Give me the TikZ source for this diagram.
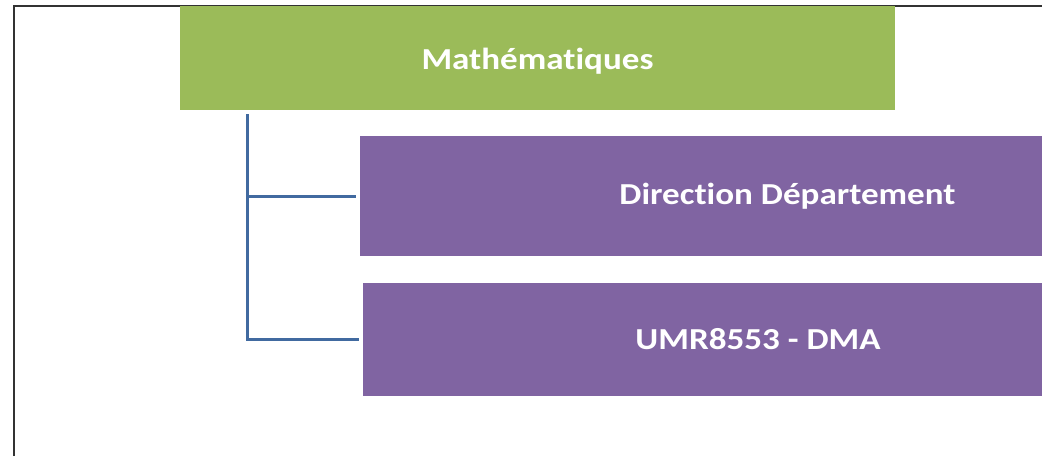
\documentclass[tikz,border=0pt]{standalone}
\usepackage{fontspec}
\setmainfont{Carlito}[FakeStretch=1.15, Ligatures=NoCommon]
\definecolor{greenbox}{RGB}{155,187,89}
\definecolor{purplebox}{RGB}{128,100,162}
\definecolor{connblue}{RGB}{65,106,160}
\definecolor{framegray}{RGB}{50,50,50}
\tikzset{
  boxlabel/.style={font=\fontsize{30.5}{36}\selectfont\bfseries, text=white, inner sep=0pt},
  greennode/.style={boxlabel, fill=greenbox, minimum width=715pt, minimum height=104pt},
  purplenode/.style={boxlabel, fill=purplebox},
  conn/.style={draw=connblue, line width=3pt, shorten <=4pt, shorten >=4pt},
}
\begin{document}
\begin{tikzpicture}[x=1pt,y=-1pt]
\clip (0,0) rectangle (1042,456);
\fill[white] (0,0) rectangle (1042,456);
% frame
\draw[framegray, line width=2.5pt] (14,456) -- (14,6) -- (1042,6);
% boxes
\node[greennode, text depth=0pt] (math) at (537.5,58) {\raisebox{-2pt}{Mathématiques}};
\node[purplenode, minimum width=855pt, minimum height=120pt] (dir) at (787.5,196) {Direction Département};
\node[purplenode, minimum width=790pt, minimum height=113pt] (umr) at (758,339.5) {UMR8553 - DMA};
% connectors
\coordinate (trunk) at ([xshift=68pt]math.south west);
\draw[conn] (trunk) |- (dir.west);
\draw[conn] (trunk) |- (umr.west);
\end{tikzpicture}
\end{document}
